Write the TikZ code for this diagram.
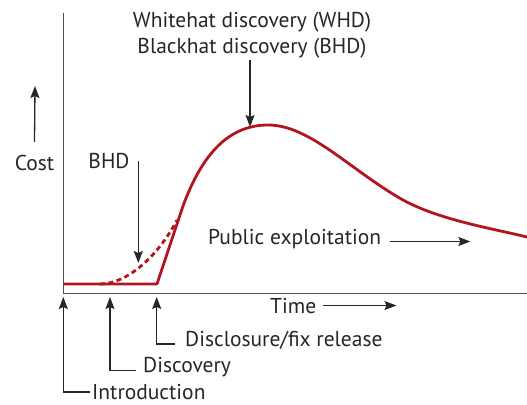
\documentclass[tikz,border=0pt]{standalone}
\usepackage{fontspec}
\setmainfont{PT Sans}
\usetikzlibrary{arrows.meta}
\definecolor{curvered}{HTML}{B3151E}
\definecolor{inkgray}{HTML}{262626}
\definecolor{axisgray}{HTML}{505050}

\begin{document}
\begin{tikzpicture}[x=1pt, y=-1pt,
    lbl/.style={inner sep=0pt, text=inkgray, font=\fontsize{21.5}{26}\selectfont},
    ptr/.style={draw=inkgray, line width=1.3pt, -{Stealth[length=12pt, width=9pt, inset=2pt]}},
    axis/.style={draw=axisgray, line width=1.6pt}]
  \useasboundingbox (0,0) rectangle (527,404);

  % Axes
  \coordinate (ytop) at (63.3,13);
  \coordinate (origin) at (63.3,293.5);
  \coordinate (xend) at (527,293.5);
  \draw[axis] (ytop) -- (origin) -- (xend);

  % Cost curves
  \draw[curvered, line width=2.8pt, dash pattern=on 5pt off 3.5pt]
    (100,284) .. controls (126,284) and (157,258) .. (177,220);
  \draw[curvered, line width=2.8pt, line join=round]
    (63.3,284) -- (157,284) -- (183,206)
    .. controls (200,160) and (225,125) .. (268,125)
    .. controls (310,125) and (350,170) .. (403,200)
    .. controls (440,220) and (490,228) .. (527,237);

  % Nodes
  \node[lbl, anchor=base] (cost) at (34.5,170.5) {Cost};
  \node[lbl, anchor=base] (bhd) at (109,168.5) {BHD};
  \node[lbl, align=center, anchor=base] (whd) at (252,53.5)
    {Whitehat discovery (WHD)\\Blackhat discovery (BHD)};
  \node[lbl, anchor=base west] (pubex) at (208,244) {Public exploitation};
  \node[lbl, anchor=base west] (time) at (270,313) {Time};
  \node[lbl, anchor=base west] (disc) at (185,346.5) {Disclosure/fix release};
  \node[lbl, anchor=base west] (discov) at (143,372.7) {Discovery};
  \node[lbl, anchor=base west] (intro) at (92,399.5) {Introduction};

  % Arrow ends
  \coordinate (costtip) at (35,86);
  \coordinate (bhdtip) at (138.3,263);
  \coordinate (whdtip) at (250,127);
  \coordinate (pubtip) at ([xshift=89pt]pubex.mid east);
  \coordinate (timetip) at ([xshift=80pt]time.east);
  \coordinate (introtip) at (63.3,297);
  \coordinate (discovtip) at (110,297);
  \coordinate (disctip) at (156.7,297);

  % Arrows
  \draw[ptr] ([yshift=13pt]cost.north) -- (costtip);
  \draw[ptr] (bhd.east -| bhdtip) -- (bhdtip);
  \draw[ptr] ([yshift=-1.5pt]whdtip |- whd.south) -- (whdtip);
  \draw[ptr] ([xshift=9pt]pubex.mid east) -- (pubtip);
  \draw[ptr] ([xshift=7pt]time.east) -- (timetip);
  \draw[ptr] ([xshift=-10pt]disc.mid west) -| (disctip);
  \draw[ptr] ([xshift=-7pt]discov.mid west) -| (discovtip);
  \draw[ptr] ([xshift=-2pt]intro.west) -| (introtip);
\end{tikzpicture}
\end{document}
